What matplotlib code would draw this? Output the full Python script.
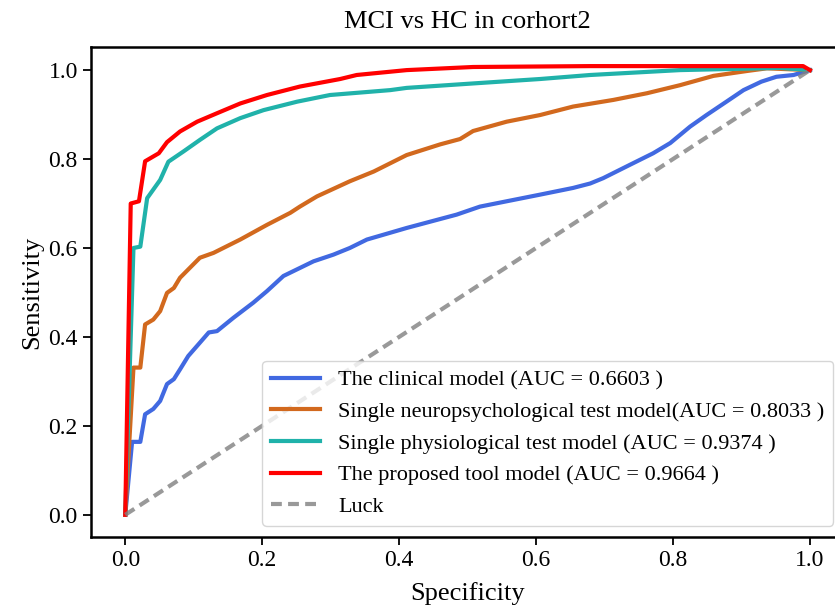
import matplotlib
matplotlib.use("Agg")
import matplotlib.pyplot as plt

plt.rcParams['font.family'] = ['Liberation Serif', 'DejaVu Serif']

# ROC points (specificity axis, sensitivity)
clinical_x = [0, 0.010, 0.022, 0.029, 0.041, 0.051, 0.061, 0.071, 0.080, 0.092, 0.109, 0.122, 0.134,
              0.158, 0.187, 0.207, 0.231, 0.255, 0.275, 0.304, 0.328, 0.353, 0.411, 0.484, 0.518,
              0.557, 0.606, 0.654, 0.679, 0.698, 0.737, 0.771, 0.796, 0.825, 0.849, 0.878, 0.903,
              0.929, 0.951, 0.976, 1.0]
clinical_y = [0, 0.164, 0.164, 0.226, 0.238, 0.256, 0.294, 0.305, 0.327, 0.357, 0.387, 0.410, 0.413,
              0.443, 0.477, 0.503, 0.537, 0.555, 0.570, 0.585, 0.600, 0.619, 0.645, 0.675, 0.693,
              0.705, 0.720, 0.735, 0.745, 0.757, 0.787, 0.813, 0.836, 0.873, 0.899, 0.929, 0.955,
              0.974, 0.985, 0.989, 1.0]

neuro_x = [0, 0.012, 0.022, 0.029, 0.041, 0.051, 0.061, 0.071, 0.080, 0.109, 0.129, 0.168, 0.207,
           0.241, 0.255, 0.280, 0.328, 0.363, 0.411, 0.460, 0.489, 0.508, 0.557, 0.606, 0.654,
           0.713, 0.762, 0.810, 0.859, 0.908, 0.937, 1.0]
neuro_y = [0, 0.331, 0.331, 0.428, 0.439, 0.458, 0.499, 0.510, 0.533, 0.578, 0.589, 0.619, 0.652,
           0.679, 0.693, 0.716, 0.750, 0.772, 0.809, 0.833, 0.845, 0.863, 0.884, 0.899, 0.918,
           0.933, 0.948, 0.966, 0.987, 0.998, 1.004, 1.0]

physio_x = [0, 0.012, 0.022, 0.032, 0.051, 0.063, 0.085, 0.109, 0.134, 0.168, 0.202, 0.251, 0.299,
            0.387, 0.411, 0.508, 0.606, 0.679, 0.810, 0.956, 1.0]
physio_y = [0, 0.600, 0.603, 0.712, 0.753, 0.794, 0.817, 0.843, 0.869, 0.892, 0.910, 0.929, 0.944,
            0.955, 0.960, 0.970, 0.980, 0.989, 1.000, 1.005, 1.0]

tool_x = [0, 0.008, 0.020, 0.029, 0.049, 0.061, 0.080, 0.105, 0.134, 0.168, 0.207, 0.255, 0.314,
          0.338, 0.411, 0.508, 0.679, 0.990, 1.0]
tool_y = [0, 0.700, 0.705, 0.795, 0.813, 0.838, 0.862, 0.884, 0.903, 0.925, 0.944, 0.963, 0.980,
          0.989, 1.000, 1.007, 1.009, 1.009, 1.0]

labels = ["The clinical model (AUC = 0.6603 )",
          "Single neuropsychological test model(AUC = 0.8033 )",
          "Single physiological test model (AUC = 0.9374 )",
          "The proposed tool model (AUC = 0.9664 )"]
colors = ["royalblue", "chocolate", "lightseagreen", "red"]

fig = plt.figure(figsize=(8.35, 6.07), dpi=100)
ax = fig.add_axes([0.109, 0.1153, 0.902, 0.8073])

curves = [(clinical_x, clinical_y), (neuro_x, neuro_y), (physio_x, physio_y), (tool_x, tool_y)]
for (xs, ys), lab, c in zip(curves, labels, colors):
    ax.plot(xs, ys, color=c, lw=3, label=lab)
ax.plot([0, 1], [0, 1], linestyle='--', dashes=(2.6, 1.5), lw=3, color='gray', alpha=0.8, label='Luck')

ax.set_xlim(-0.05, 1.05)
ax.set_ylim(-0.05, 1.052)
ax.set_xticks([0, 0.2, 0.4, 0.6, 0.8, 1.0])
ax.set_yticks([0, 0.2, 0.4, 0.6, 0.8, 1.0])
ax.tick_params(labelsize=17, width=1.3, length=6)
for s in ax.spines.values():
    s.set_linewidth(1.8)

ax.set_xlabel("Specificity", fontsize=19, labelpad=8)
ax.set_ylabel("Sensitivity", fontsize=19)
ax.set_title("MCI vs HC in corhort2", fontsize=19, pad=14)
ax.legend(loc='lower right', fontsize=16, handlelength=2.2)

fig.savefig("out.png", dpi=100)
